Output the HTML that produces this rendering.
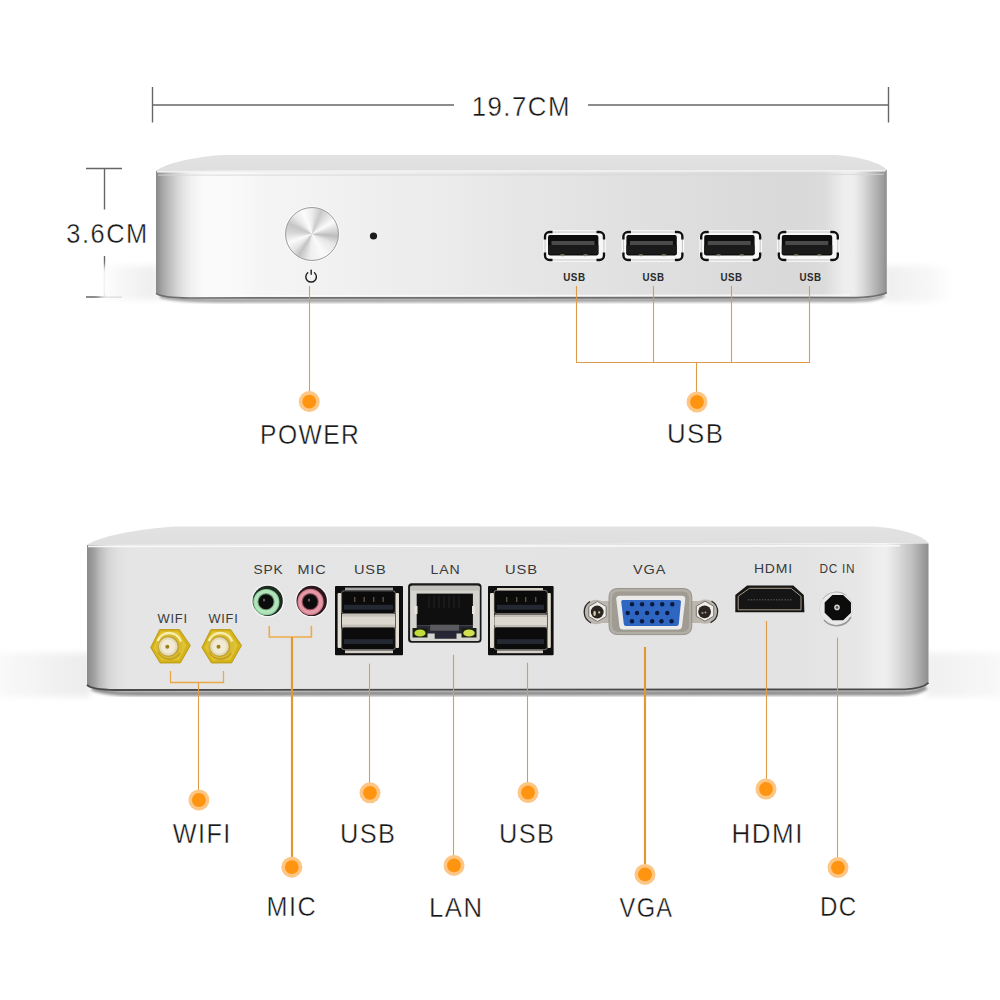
<!DOCTYPE html>
<html><head><meta charset="utf-8">
<style>
html,body{margin:0;padding:0;background:#fff;}
body{width:1000px;height:1000px;position:relative;overflow:hidden;font-family:"Liberation Sans",sans-serif;}
svg{position:absolute;left:0;top:0;}
.btn{position:absolute;left:285px;top:207px;width:54px;height:54px;border-radius:50%;box-sizing:border-box;border:1.2px solid #9c9c9c;
box-shadow:0 0 0 1px #fbfbfb;
background:conic-gradient(from 0deg,#ececec 0deg,#c9c9c9 22deg,#e2e2e2 40deg,#fbfbfb 60deg,#d8d8d8 80deg,#bdbdbd 95deg,#e6e6e6 115deg,#fafafa 150deg,#eeeeee 185deg,#c2c2c2 212deg,#e4e4e4 228deg,#fbfbfb 250deg,#d4d4d4 275deg,#c6c6c6 295deg,#e8e8e8 315deg,#fcfcfc 338deg,#ececec 360deg);}
</style></head>
<body>
<svg width="1000" height="1000" viewBox="0 0 1000 1000">
<defs>
  <linearGradient id="face1" x1="156" y1="0" x2="886.8" y2="0" gradientUnits="userSpaceOnUse">
    <stop offset="0.0000" stop-color="#888888"/>
    <stop offset="0.0082" stop-color="#a4a4a4"/>
    <stop offset="0.0192" stop-color="#c0c0c0"/>
    <stop offset="0.0287" stop-color="#d4d4d4"/>
    <stop offset="0.0383" stop-color="#e6e6e6"/>
    <stop offset="0.0493" stop-color="#f2f2f2"/>
    <stop offset="0.0657" stop-color="#fafafa"/>
    <stop offset="0.1149" stop-color="#f9f9f9"/>
    <stop offset="0.1423" stop-color="#f5f5f5"/>
    <stop offset="0.2655" stop-color="#f0f0f0"/>
    <stop offset="0.4023" stop-color="#ebebeb"/>
    <stop offset="0.5528" stop-color="#e4e4e4"/>
    <stop offset="0.7170" stop-color="#dedede"/>
    <stop offset="0.8265" stop-color="#dadada"/>
    <stop offset="0.8812" stop-color="#d9d9d9"/>
    <stop offset="0.9154" stop-color="#dcdcdc"/>
    <stop offset="0.9332" stop-color="#e8e8e8"/>
    <stop offset="0.9428" stop-color="#efefef"/>
    <stop offset="0.9551" stop-color="#eeeeee"/>
    <stop offset="0.9688" stop-color="#d8d8d8"/>
    <stop offset="0.9811" stop-color="#bcbcbc"/>
    <stop offset="0.9934" stop-color="#a0a0a0"/>
    <stop offset="1.0000" stop-color="#8e8e8e"/>
  </linearGradient>
  <linearGradient id="face2" x1="87" y1="0" x2="928.5" y2="0" gradientUnits="userSpaceOnUse">
    <stop offset="0.0000" stop-color="#8a8a8a"/>
    <stop offset="0.0083" stop-color="#a0a0a0"/>
    <stop offset="0.0154" stop-color="#bcbcbc"/>
    <stop offset="0.0250" stop-color="#d4d4d4"/>
    <stop offset="0.0368" stop-color="#e0e0e0"/>
    <stop offset="0.0511" stop-color="#e5e5e5"/>
    <stop offset="0.1343" stop-color="#e5e5e5"/>
    <stop offset="0.3720" stop-color="#e4e4e4"/>
    <stop offset="0.6096" stop-color="#e3e3e3"/>
    <stop offset="0.8473" stop-color="#e3e3e3"/>
    <stop offset="0.9186" stop-color="#e7e7e7"/>
    <stop offset="0.9400" stop-color="#eeeeee"/>
    <stop offset="0.9495" stop-color="#efefef"/>
    <stop offset="0.9661" stop-color="#d8d8d8"/>
    <stop offset="0.9804" stop-color="#c0c0c0"/>
    <stop offset="0.9911" stop-color="#a4a4a4"/>
    <stop offset="1.0000" stop-color="#8e8e8e"/>
  </linearGradient>
  <linearGradient id="lid" x1="0" y1="0" x2="0" y2="1">
    <stop offset="0" stop-color="#e2e2e2"/>
    <stop offset="1" stop-color="#dfdfdf"/>
  </linearGradient>
  <linearGradient id="bottomShade" x1="0" y1="0" x2="0" y2="1">
    <stop offset="0" stop-color="#fff" stop-opacity="0"/>
    <stop offset="1" stop-color="#fff" stop-opacity="0.5"/>
  </linearGradient>
  <linearGradient id="shR1" x1="0" y1="0" x2="1" y2="0"><stop offset="0" stop-color="#efefef"/><stop offset="0.6" stop-color="#f6f6f6"/><stop offset="1" stop-color="#fff"/></linearGradient>
  <linearGradient id="shL1" x1="1" y1="0" x2="0" y2="0"><stop offset="0" stop-color="#eeeeee"/><stop offset="0.6" stop-color="#f6f6f6"/><stop offset="1" stop-color="#fff"/></linearGradient>
  <linearGradient id="shR2" x1="0" y1="0" x2="1" y2="0"><stop offset="0" stop-color="#f0f0f0"/><stop offset="0.5" stop-color="#f4f4f4"/><stop offset="1" stop-color="#f9f9f9"/></linearGradient>
  <linearGradient id="shL2" x1="1" y1="0" x2="0" y2="0"><stop offset="0" stop-color="#ececec"/><stop offset="0.5" stop-color="#f3f3f3"/><stop offset="1" stop-color="#fafafa"/></linearGradient>
  <filter id="blur3" x="-20%" y="-50%" width="140%" height="200%"><feGaussianBlur stdDeviation="3"/></filter>
  <filter id="blur6" x="-50%" y="-50%" width="200%" height="200%"><feGaussianBlur stdDeviation="6"/></filter>
  <filter id="blur2" x="-50%" y="-50%" width="200%" height="200%"><feGaussianBlur stdDeviation="1.5"/></filter>
  <radialGradient id="gold" cx="0.45" cy="0.4" r="0.6">
    <stop offset="0" stop-color="#f6e6a0"/>
    <stop offset="0.5" stop-color="#d9b640"/>
    <stop offset="1" stop-color="#a8861a"/>
  </radialGradient>
  <radialGradient id="goldIn" cx="0.5" cy="0.5" r="0.5">
    <stop offset="0" stop-color="#f3eccb"/>
    <stop offset="0.7" stop-color="#e8d890"/>
    <stop offset="1" stop-color="#c8a838"/>
  </radialGradient>
  <g id="dot"><circle r="10.5" fill="#fdc684"/><circle r="6.9" fill="#ff9410"/></g>
</defs>

<!-- ============ dimension lines ============ -->
<g stroke="#666" stroke-width="1.4" fill="none">
  <line x1="152" y1="105" x2="454" y2="105"/>
  <line x1="588" y1="105" x2="889" y2="105"/>
  <line x1="152.5" y1="87" x2="152.5" y2="122.5"/>
  <line x1="888.5" y1="87" x2="888.5" y2="122.5"/>
  <line x1="86" y1="168.5" x2="122" y2="168.5"/>
  <line x1="86" y1="297" x2="122" y2="297"/>
  <line x1="104.5" y1="168.5" x2="104.5" y2="209.5"/>
  <line x1="104.5" y1="256" x2="104.5" y2="297"/>
</g>

<!-- ============ top device ============ -->
<rect x="884" y="266" width="70" height="36" fill="url(#shR1)" filter="url(#blur3)"/>
<rect x="100" y="266" width="58" height="34" fill="url(#shL1)" filter="url(#blur3)"/>
<path d="M160,296 C175,300 200,300.5 230,300.5 L850,300 C870,300 880,298 884,295" fill="none" stroke="#9a9a9a" stroke-width="4" filter="url(#blur2)"/>
<path d="M156,171 C163,165 185,158 222,155 L835,155 C858,156.5 880,162 886.8,170 Z" fill="url(#lid)"/>
<path d="M156,171 L886.8,170 L886.8,292.4 C880,296 868,297.4 850,297.6 L190,298 C172,297.8 160,296.5 156,293.4 Z" fill="url(#face1)"/>
<line x1="157" y1="171.8" x2="885.5" y2="170.8" stroke="#f2f2f2" stroke-width="1.4"/>
<line x1="158" y1="175.2" x2="884" y2="174.4" stroke="#d6d6d6" stroke-width="1.3" opacity="0.7"/>
<path d="M200,295.6 L850,295.2" fill="none" stroke="#fbfbfb" stroke-width="1.3" opacity="0.8"/>
<path d="M156,293.4 C160,296.5 172,297.8 190,298 L850,297.6 C868,297.4 880,296 886.8,292.4" fill="none" stroke="#6e6e6e" stroke-width="1.7"/>

<!-- power dot + icon -->
<circle cx="373.5" cy="236" r="3.6" fill="#1a1a1a"/>
<g fill="none" stroke="#1e1e1e" stroke-width="1.4" stroke-linecap="round">
  <path d="M307.7,272.7 A5.3,5.3 0 1 0 314.5,272.7"/>
  <line x1="311.2" y1="270.2" x2="311.2" y2="274.2"/>
</g>

<!-- top USB ports -->
<g id="usbA">
  <rect x="543.3" y="230.3" width="62.4" height="31.4" rx="6.5" fill="#fdfdfd"/>
  <rect x="545" y="232" width="59" height="28" rx="4.5" fill="#f7f7f7" stroke="#b4b4b4" stroke-width="0.8"/>
  <g fill="none" stroke="#111" stroke-width="2.4">
    <path d="M545,239.5 L545,236.5 A4.5,4.5 0 0 1 549.5,232 L552.5,232"/>
    <path d="M596.5,232 L599.5,232 A4.5,4.5 0 0 1 604,236.5 L604,239.5"/>
    <path d="M604,252.5 L604,255.5 A4.5,4.5 0 0 1 599.5,260 L596.5,260"/>
    <path d="M552.5,260 L549.5,260 A4.5,4.5 0 0 1 545,255.5 L545,252.5"/>
  </g>
  <rect x="548" y="235.1" width="50.4" height="20.3" rx="2" fill="#0e0e0e"/>
  <rect x="548" y="245" width="50.4" height="9" fill="#1a1a1a"/>
  <rect x="551.5" y="241" width="43" height="4" fill="#4a4a4a"/>
  <ellipse cx="562.4" cy="255.3" rx="2.6" ry="1" fill="#8a8a7a"/>
  <ellipse cx="585.5" cy="255.3" rx="2.6" ry="1" fill="#8a8a7a"/>
</g>
<use href="#usbA" x="78.4"/>
<use href="#usbA" x="156.2"/>
<use href="#usbA" x="233.8"/>

<!-- top orange connectors -->
<g stroke="#dc9c4c" stroke-width="1.1" fill="none">
  <line x1="309.5" y1="286" x2="309.5" y2="395"/>
  <line x1="576.5" y1="286" x2="576.5" y2="362.5"/>
  <line x1="653.5" y1="286" x2="653.5" y2="362.5"/>
  <line x1="731.5" y1="286" x2="731.5" y2="362.5"/>
  <line x1="809.5" y1="286" x2="809.5" y2="362.5"/>
  <line x1="576" y1="362.5" x2="810" y2="362.5"/>
  <line x1="696.5" y1="362.5" x2="696.5" y2="395"/>
</g>
<use href="#dot" x="309.3" y="401.6"/>
<use href="#dot" x="697" y="402"/>

<!-- ============ bottom device ============ -->
<rect x="926" y="653" width="80" height="44" fill="url(#shR2)" filter="url(#blur3)"/>
<rect x="-6" y="653" width="96" height="44" fill="url(#shL2)" filter="url(#blur3)"/>
<path d="M92,688 C105,693 120,693.5 140,693.5 L900,693 C915,693 922,690 926,687" fill="none" stroke="#8a8a8a" stroke-width="5" filter="url(#blur2)"/>
<path d="M87,545 C95,539 125,530 175,526.5 L875,526.5 C900,528.5 922,535 928.5,543 Z" fill="url(#lid)"/>
<path d="M87,545 L928.5,543.5 L928.5,682.8 C924,687 918,688.6 905,689.4 L115,690 C100,689.6 90,688 87,684.8 Z" fill="url(#face2)"/>
<line x1="88" y1="546.4" x2="900" y2="545.8" stroke="#f8f8f8" stroke-width="1.6"/>
<path d="M87,684.8 C90,688 100,689.6 115,690 L905,689.4 C918,688.6 924,687 928.5,682.8" fill="none" stroke="#4a4a4a" stroke-width="1.8"/>

<!-- labels on device -->

<!-- wifi connectors -->
<g id="sma">
  <polygon points="159.7,629.6 179.5,629.6 190.3,645.4 180.4,662.9 160.2,663 150.7,647.6" fill="#d4b21c" stroke="#b8960e" stroke-width="0.9"/>
  <polygon points="161,631.5 178,631.5 186.5,645.5 179,660 161.5,660.5 153.5,647.5" fill="#e2c42e"/>
  <circle cx="169.3" cy="646" r="13.3" fill="#d9bb34"/>
  <path d="M157.5,641 A12.5,12.5 0 0 1 181,641.5" fill="none" stroke="#f8eeb0" stroke-width="2.4"/>
  <path d="M158,652 A12.5,12.5 0 0 0 180,653" fill="none" stroke="#c4a020" stroke-width="1.6"/>
  <circle cx="168.6" cy="646.4" r="10.5" fill="#bfa23a"/>
  <circle cx="168.2" cy="646.5" r="9.3" fill="#e6dcb8"/>
  <circle cx="168.2" cy="646.5" r="7" fill="#f1ead6"/>
  <circle cx="167.3" cy="646.7" r="2" fill="#9a8218"/>
</g>
<use href="#sma" x="51.2"/>

<!-- audio jacks -->
<circle cx="267.7" cy="600.9" r="16.5" fill="#f6f6f6"/>
<circle cx="267.7" cy="600.9" r="15.1" fill="#1c2a20"/>
<circle cx="266.3" cy="602.1" r="13.2" fill="#8ccc9c"/>
<circle cx="266.3" cy="602" r="12" fill="#b4e4bc"/>
<circle cx="266" cy="601.7" r="8.6" fill="#6a9a74"/>
<circle cx="266" cy="601.7" r="7.5" fill="#0c0c0c"/>
<ellipse cx="264" cy="600" rx="1" ry="1.6" fill="#6a6a6a"/>
<circle cx="311.7" cy="600.9" r="16.5" fill="#f6f6f6"/>
<circle cx="311.7" cy="600.9" r="15.2" fill="#2a161c"/>
<circle cx="310.5" cy="602" r="13.2" fill="#c97886"/>
<circle cx="310.5" cy="602" r="12" fill="#e499a8"/>
<circle cx="310.2" cy="601.7" r="8.6" fill="#8a4a56"/>
<circle cx="310.2" cy="601.7" r="7.4" fill="#0c0c0c"/>
<ellipse cx="309" cy="600" rx="1" ry="1.6" fill="#7a6a6a"/>

<!-- stacked USB 1 -->
<g>
  <rect x="335" y="586" width="68" height="69.2" rx="1" fill="#0e0e0e"/>
  <rect x="337.6" y="593" width="3.6" height="55" rx="1" fill="#e2ded4"/>
  <rect x="395.6" y="593" width="3.4" height="55" rx="1" fill="#e2ded4"/>
  <rect x="345" y="587.6" width="48" height="2.4" fill="#a4a4a4"/>
  <rect x="345" y="650.4" width="48" height="2.8" fill="#d4d0c8"/>
  <rect x="341.6" y="590.8" width="53.8" height="22.8" rx="2.5" fill="#0b0b0b" stroke="#bdb9b0" stroke-width="0.6"/>
  <rect x="344" y="604.8" width="49" height="4.8" fill="#232833"/>
  <g fill="#5a5040"><rect x="354" y="597" width="1.4" height="5"/><rect x="363.5" y="597" width="1.4" height="5"/><rect x="373" y="597" width="1.4" height="5"/><rect x="382.5" y="597" width="1.4" height="5"/></g>
  <rect x="342" y="614" width="53" height="13.2" fill="#c4c0b8"/>
  <rect x="342" y="616.6" width="53" height="8" fill="#dcd8d0"/>
  <rect x="341.6" y="627.2" width="53.8" height="22.4" rx="2.5" fill="#0b0b0b" stroke="#bdb9b0" stroke-width="0.6"/>
  <rect x="344" y="639.2" width="49" height="4.8" fill="#232833"/>
</g>
<!-- stacked USB 2 -->
<g>
  <rect x="488" y="586" width="65.6" height="69.2" rx="1" fill="#0e0e0e"/>
  <rect x="490" y="593" width="4" height="55" rx="1" fill="#e2ded4"/>
  <rect x="547.6" y="593" width="3.2" height="55" rx="1" fill="#e2ded4"/>
  <rect x="497" y="588" width="46" height="2.4" fill="#d4d0c8"/>
  <rect x="497" y="650.4" width="46" height="2.8" fill="#d4d0c8"/>
  <rect x="494" y="590.4" width="53.4" height="23.2" rx="2.5" fill="#0b0b0b" stroke="#bdb9b0" stroke-width="0.6"/>
  <rect x="497" y="604.8" width="47" height="4.8" fill="#232833"/>
  <g fill="#5a5040"><rect x="506" y="597" width="1.4" height="5"/><rect x="516" y="597" width="1.4" height="5"/><rect x="525" y="597" width="1.4" height="5"/><rect x="535" y="597" width="1.4" height="5"/></g>
  <rect x="494.5" y="614.5" width="52.5" height="12.5" fill="#c4c0b8"/>
  <rect x="494.5" y="617" width="52.5" height="8" fill="#dcd8d0"/>
  <rect x="494" y="627" width="53.4" height="22.6" rx="2.5" fill="#0b0b0b" stroke="#bdb9b0" stroke-width="0.6"/>
  <rect x="497" y="639.2" width="47" height="4.8" fill="#232833"/>
</g>

<!-- LAN -->
<rect x="408.1" y="583.3" width="73.4" height="59.5" rx="3.5" fill="#1a1a1a"/>
<rect x="410.1" y="585.8" width="69.7" height="55.3" rx="2" fill="#d6d4ce"/>
<rect x="410.1" y="585.8" width="69.7" height="5" rx="2" fill="#c4c2bc"/>
<rect x="416.7" y="593.6" width="56.2" height="32" fill="#0f0f0f"/>
<rect x="414.5" y="606" width="3" height="8" fill="#e8e4dc"/>
<rect x="472" y="606" width="3" height="8" fill="#e8e4dc"/>
<g stroke="#2a2a2a" stroke-width="0.8"><line x1="429" y1="596" x2="429" y2="608"/><line x1="434" y1="596" x2="434" y2="608"/><line x1="439" y1="596" x2="439" y2="608"/><line x1="444" y1="596" x2="444" y2="608"/><line x1="449" y1="596" x2="449" y2="608"/><line x1="454" y1="596" x2="454" y2="608"/><line x1="459" y1="596" x2="459" y2="608"/></g>
<path d="M416.7,625.5 L472.9,625.5 L472.9,633.5 L456.5,633.5 L456.5,638.7 L434.7,638.7 L434.7,633.5 L416.7,633.5 Z" fill="#262634"/>
<rect x="430.2" y="624.7" width="28.8" height="6" fill="#5a5a5e"/>
<rect x="412.5" y="628" width="15" height="9.5" fill="#1a2010"/>
<rect x="461.5" y="628" width="15" height="9.5" fill="#1a2010"/>
<ellipse cx="420" cy="633" rx="5.6" ry="3.6" fill="#c4dc3c"/>
<ellipse cx="469" cy="633" rx="5.8" ry="3.6" fill="#d0e050"/>

<!-- VGA -->
<g fill="#bcb7ae">
  <rect x="596" y="601" width="109" height="22"/>
  <circle cx="596" cy="612" r="12.2"/>
  <circle cx="705.2" cy="611.6" r="12.2"/>
</g>
<path d="M590,601.5 A12.2,12.2 0 0 0 591,622.8" fill="none" stroke="#2a2a2a" stroke-width="1.3"/>
<path d="M711.5,601 A12.2,12.2 0 0 1 710.6,622.6" fill="none" stroke="#2a2a2a" stroke-width="1.3"/>
<path d="M609,597 Q609,588.5 618,588.5 L683,588.5 Q691.8,588.5 691.8,597 L691.8,626 Q691.8,634.6 683,634.6 L618,634.6 Q609,634.6 609,626 Z" fill="#b2aea6" stroke="#8a867e" stroke-width="0.8"/>
<path d="M612,598 Q612,591.5 619,591.5 L682,591.5 Q689,591.5 689,598 L689,625 Q689,632 682,632 L619,632 Q612,632 612,625 Z" fill="#a09c94"/>
<path d="M616.2,599 Q616.2,595.7 620,595.7 L681.5,595.7 Q685.3,595.7 685.3,599 L682,626.5 Q681.5,629.5 678,629.5 L623,629.5 Q619.7,629.5 619.5,626.5 Z" fill="#ebebeb"/>
<path d="M621.2,601.5 Q621.2,600 623,600 L679,600 Q681,600 681,601.5 L678.8,624 Q678.6,625.9 676.5,625.9 L626,625.9 Q624,625.9 623.8,624 Z" fill="#2e66c2"/>
<g fill="#0b1a3e">
  <circle cx="632" cy="604.3" r="2.2"/><circle cx="642.1" cy="604.3" r="2.2"/><circle cx="652.2" cy="604.3" r="2.2"/><circle cx="662.2" cy="604.3" r="2.2"/><circle cx="672.3" cy="604.3" r="2.2"/>
  <circle cx="627.7" cy="613" r="2.2"/><circle cx="637" cy="613" r="2.2"/><circle cx="647.1" cy="613" r="2.2"/><circle cx="657.2" cy="613" r="2.2"/><circle cx="667.3" cy="613" r="2.2"/>
  <circle cx="632" cy="621.3" r="2.2"/><circle cx="642" cy="621.3" r="2.2"/><circle cx="652.2" cy="621.3" r="2.2"/><circle cx="661.5" cy="621.3" r="2.2"/><circle cx="671.6" cy="621.3" r="2.2"/>
</g>
<g>
  <polygon points="597.5,601.5 606.2,606.5 606.2,616.5 597.5,621.5 588.8,616.5 588.8,606.5" fill="#f0eee9" stroke="#6e6a64" stroke-width="0.9"/>
  <circle cx="597.2" cy="612" r="6.4" fill="#2a2520"/>
  <ellipse cx="594.6" cy="613.4" rx="1.3" ry="2.6" fill="#d4ccb2"/>
  <circle cx="599.2" cy="612.4" r="1.1" fill="#c8c0a8"/>
</g>
<g>
  <polygon points="705,601.2 713.7,606.2 713.7,616.2 705,621.2 696.3,616.2 696.3,606.2" fill="#f0eee9" stroke="#6e6a64" stroke-width="0.9"/>
  <circle cx="704.6" cy="611.8" r="6.4" fill="#2a2520"/>
  <circle cx="702.5" cy="613" r="1.1" fill="#9a9488"/>
  <circle cx="705.5" cy="612.5" r="1" fill="#a8a090"/>
</g>

<!-- HDMI -->
<path d="M747.1,585.5 L793.3,585.5 L803.8,595 L804.4,612.3 L735.3,612.3 L735.3,595 Z" fill="#151515"/>
<path d="M749.5,588.3 L791.2,588.3 L801,596.3 L801,609.8 L738.2,609.8 L738.2,596.3 Z" fill="none" stroke="#a89a88" stroke-width="1"/>
<line x1="748" y1="599.8" x2="792" y2="599.8" stroke="#4a4a4a" stroke-width="1.6" stroke-dasharray="1.4 1.4"/>

<!-- DC jack -->
<circle cx="836.2" cy="608.7" r="17.6" fill="#f2f2f2"/>
<circle cx="836.2" cy="608.7" r="17.2" fill="#d6d6d6"/>
<circle cx="836.2" cy="608.7" r="16.2" fill="#e9e9e9"/>
<path d="M824,620 A16.5,16.5 0 0 0 851,617" fill="none" stroke="#9a9a9a" stroke-width="1.6"/>
<path d="M823,599 A16.5,16.5 0 0 1 846,595" fill="none" stroke="#bdbdbd" stroke-width="1.2"/>
<polygon points="850.2,612.5 842.9,619.4 832.7,619.4 825.4,612.5 825.4,602.7 832.7,595.8 842.9,595.8 850.2,602.7" fill="#0c0c0c" stroke="#0c0c0c" stroke-width="1.5" stroke-linejoin="round"/>
<circle cx="837" cy="607.4" r="2.8" fill="#d8d4cc"/>
<circle cx="837" cy="607.4" r="1.3" fill="#555"/>

<!-- bottom orange connectors -->
<g stroke="#dc9c4c" stroke-width="1.1" fill="none">
  <polyline points="170.5,671 170.5,682.5 223.5,682.5 223.5,671" stroke="#eba848" stroke-width="1.3"/>
  <line x1="198.5" y1="682.5" x2="198.5" y2="792"/>
  <polyline points="269.3,626 269.3,637 311.4,637 311.4,626" stroke="#eeaa48" stroke-width="1.6"/>
  <line x1="292" y1="637" x2="292" y2="860" stroke="#e39634" stroke-width="2.2"/>
  <line x1="369.5" y1="663.6" x2="369.5" y2="786"/>
  <line x1="453.5" y1="654.8" x2="453.5" y2="858"/>
  <line x1="527.5" y1="662.8" x2="527.5" y2="786"/>
  <line x1="645" y1="647" x2="645" y2="868" stroke="#e39634" stroke-width="2.2"/>
  <line x1="766.5" y1="621" x2="766.5" y2="782"/>
  <line x1="837.5" y1="637.7" x2="837.5" y2="860"/>
</g>
<use href="#dot" x="198.9" y="800"/>
<use href="#dot" x="291.8" y="867.2"/>
<use href="#dot" x="370" y="792.8"/>
<use href="#dot" x="454" y="865.4"/>
<use href="#dot" x="528" y="792.5"/>
<use href="#dot" x="645" y="874.4"/>
<use href="#dot" x="766" y="789"/>
<use href="#dot" x="838" y="867.6"/>

<text x="471.70" y="116.00" font-family="Liberation Sans" font-size="27.5" font-weight="normal" fill="#161616" stroke="#fff" stroke-width="0.4" letter-spacing="1.6" textLength="99.20" lengthAdjust="spacingAndGlyphs">19.7CM</text>
<text x="66.30" y="243.20" font-family="Liberation Sans" font-size="27.5" font-weight="normal" fill="#161616" stroke="#fff" stroke-width="0.4" letter-spacing="1.6" textLength="82.40" lengthAdjust="spacingAndGlyphs">3.6CM</text>
<text x="260.10" y="444.20" font-family="Liberation Sans" font-size="27.5" font-weight="normal" fill="#161616" stroke="#fff" stroke-width="0.4" letter-spacing="1.6" textLength="100.20" lengthAdjust="spacingAndGlyphs">POWER</text>
<text x="666.90" y="443.40" font-family="Liberation Sans" font-size="27.5" font-weight="normal" fill="#161616" stroke="#fff" stroke-width="0.4" letter-spacing="1.6" textLength="57.60" lengthAdjust="spacingAndGlyphs">USB</text>
<text x="172.70" y="842.50" font-family="Liberation Sans" font-size="27.5" font-weight="normal" fill="#161616" stroke="#fff" stroke-width="0.4" letter-spacing="1.6" textLength="59.00" lengthAdjust="spacingAndGlyphs">WIFI</text>
<text x="339.90" y="842.50" font-family="Liberation Sans" font-size="27.5" font-weight="normal" fill="#161616" stroke="#fff" stroke-width="0.4" letter-spacing="1.6" textLength="56.60" lengthAdjust="spacingAndGlyphs">USB</text>
<text x="498.90" y="843.00" font-family="Liberation Sans" font-size="27.5" font-weight="normal" fill="#161616" stroke="#fff" stroke-width="0.4" letter-spacing="1.6" textLength="56.60" lengthAdjust="spacingAndGlyphs">USB</text>
<text x="731.50" y="842.60" font-family="Liberation Sans" font-size="27.5" font-weight="normal" fill="#161616" stroke="#fff" stroke-width="0.4" letter-spacing="1.6" textLength="72.40" lengthAdjust="spacingAndGlyphs">HDMI</text>
<text x="266.50" y="916.00" font-family="Liberation Sans" font-size="27.5" font-weight="normal" fill="#161616" stroke="#fff" stroke-width="0.4" letter-spacing="1.6" textLength="50.60" lengthAdjust="spacingAndGlyphs">MIC</text>
<text x="428.90" y="917.00" font-family="Liberation Sans" font-size="27.5" font-weight="normal" fill="#161616" stroke="#fff" stroke-width="0.4" letter-spacing="1.6" textLength="54.60" lengthAdjust="spacingAndGlyphs">LAN</text>
<text x="619.50" y="917.00" font-family="Liberation Sans" font-size="27.5" font-weight="normal" fill="#161616" stroke="#fff" stroke-width="0.4" letter-spacing="1.6" textLength="54.00" lengthAdjust="spacingAndGlyphs">VGA</text>
<text x="819.90" y="916.00" font-family="Liberation Sans" font-size="27.5" font-weight="normal" fill="#161616" stroke="#fff" stroke-width="0.4" letter-spacing="1.6" textLength="37.60" lengthAdjust="spacingAndGlyphs">DC</text>
<text x="157.50" y="623.00" font-family="Liberation Sans" font-size="13.5" font-weight="normal" fill="#3a3a3a" letter-spacing="0.8" textLength="30.40" lengthAdjust="spacingAndGlyphs">WIFI</text>
<text x="208.50" y="623.00" font-family="Liberation Sans" font-size="13.5" font-weight="normal" fill="#3a3a3a" letter-spacing="0.8" textLength="30.00" lengthAdjust="spacingAndGlyphs">WIFI</text>
<text x="253.50" y="573.50" font-family="Liberation Sans" font-size="13.5" font-weight="normal" fill="#3a3a3a" letter-spacing="0.8" textLength="30.00" lengthAdjust="spacingAndGlyphs">SPK</text>
<text x="297.50" y="573.50" font-family="Liberation Sans" font-size="13.5" font-weight="normal" fill="#3a3a3a" letter-spacing="0.8" textLength="29.00" lengthAdjust="spacingAndGlyphs">MIC</text>
<text x="353.90" y="573.70" font-family="Liberation Sans" font-size="13.5" font-weight="normal" fill="#3a3a3a" letter-spacing="0.8" textLength="32.60" lengthAdjust="spacingAndGlyphs">USB</text>
<text x="430.50" y="573.70" font-family="Liberation Sans" font-size="13.5" font-weight="normal" fill="#3a3a3a" letter-spacing="0.8" textLength="30.00" lengthAdjust="spacingAndGlyphs">LAN</text>
<text x="504.90" y="573.50" font-family="Liberation Sans" font-size="13.5" font-weight="normal" fill="#3a3a3a" letter-spacing="0.8" textLength="33.00" lengthAdjust="spacingAndGlyphs">USB</text>
<text x="633.10" y="573.50" font-family="Liberation Sans" font-size="13.5" font-weight="normal" fill="#3a3a3a" letter-spacing="0.8" textLength="33.20" lengthAdjust="spacingAndGlyphs">VGA</text>
<text x="753.90" y="572.90" font-family="Liberation Sans" font-size="13.5" font-weight="normal" fill="#3a3a3a" letter-spacing="0.8" textLength="39.00" lengthAdjust="spacingAndGlyphs">HDMI</text>
<text x="819.50" y="572.90" font-family="Liberation Sans" font-size="13.5" font-weight="normal" fill="#3a3a3a" letter-spacing="0.8" textLength="35.60" lengthAdjust="spacingAndGlyphs">DC IN</text>
<text x="563.30" y="280.80" font-family="Liberation Sans" font-size="10.3" font-weight="bold" fill="#2a2a2a" letter-spacing="0.5" textLength="22.20" lengthAdjust="spacingAndGlyphs">USB</text>
<text x="642.50" y="280.80" font-family="Liberation Sans" font-size="10.3" font-weight="bold" fill="#2a2a2a" letter-spacing="0.5" textLength="22.00" lengthAdjust="spacingAndGlyphs">USB</text>
<text x="720.50" y="280.80" font-family="Liberation Sans" font-size="10.3" font-weight="bold" fill="#2a2a2a" letter-spacing="0.5" textLength="22.00" lengthAdjust="spacingAndGlyphs">USB</text>
<text x="799.50" y="280.80" font-family="Liberation Sans" font-size="10.3" font-weight="bold" fill="#2a2a2a" letter-spacing="0.5" textLength="22.00" lengthAdjust="spacingAndGlyphs">USB</text>
</svg>
<div class="btn"></div>
</body></html>
